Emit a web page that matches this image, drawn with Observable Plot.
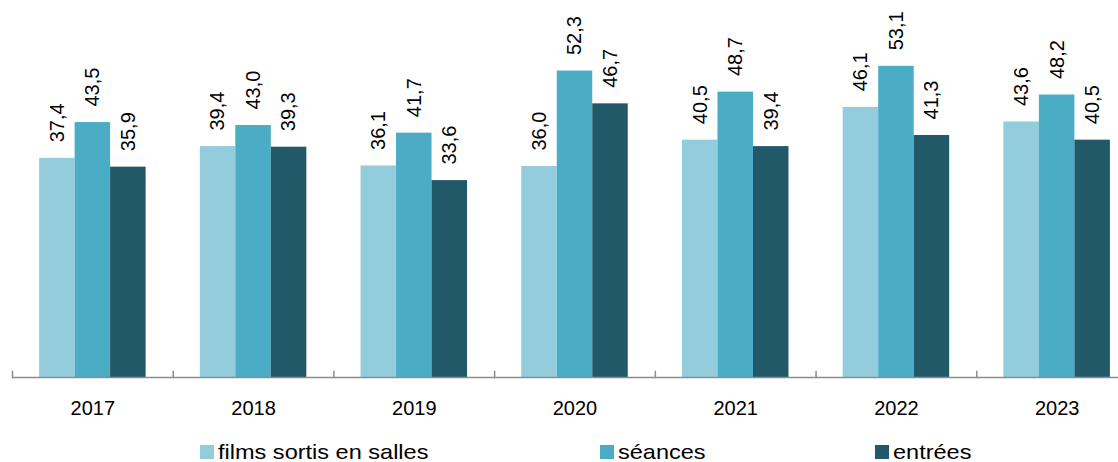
<!DOCTYPE html>
<html>
<head>
<meta charset="utf-8">
<script src="https://cdn.jsdelivr.net/npm/d3@7"></script>
<script src="https://cdn.jsdelivr.net/npm/@observablehq/plot@0.6"></script>
<style>
  html, body { margin: 0; padding: 0; background: #fff; }
  body { width: 1118px; height: 462px; overflow: hidden; position: relative; font-family: "Liberation Sans", Arial, sans-serif; }
  #chart { position: absolute; left: 0; top: 0; }
  #legend { position: absolute; top: 440px; left: 0; width: 1118px; height: 24px; font-size: 21px; line-height: 24px; color: #000; }
  .item { position: absolute; top: 0; display: flex; align-items: center; white-space: nowrap; }
  .sw { width: 14px; height: 14px; margin-right: 4px; flex: none; }
  .lbl { display: inline-block; transform: scaleX(1.12); transform-origin: left center; }
</style>
</head>
<body>
<div id="chart"></div>
<div id="legend"></div>
<script>
const years = ["2017", "2018", "2019", "2020", "2021", "2022", "2023"];
const seriesNames = ["films sortis en salles", "séances", "entrées"];
const films = [37.4, 39.4, 36.1, 36.0, 40.5, 46.1, 43.6];
const seances = [43.5, 43.0, 41.7, 52.3, 48.7, 53.1, 48.2];
const entrees = [35.9, 39.3, 33.6, 46.7, 39.4, 41.3, 40.5];
const colors = ["#93CDDD", "#4BACC6", "#215968"];

const values = [films, seances, entrees];
const data = [];
years.forEach((y, i) => {
  seriesNames.forEach((s, k) => data.push({ year: y, series: s, value: values[k][i] }));
});
const fmt = v => v.toFixed(1).replace(".", ",");

const H = 430, MT = 25.4, MB = 53;
const chart = Plot.plot({
  width: 1137,
  height: H,
  marginLeft: 12,
  marginRight: 0,
  marginTop: MT,
  marginBottom: MB,
  style: { fontFamily: "Liberation Sans, Arial, sans-serif", background: "transparent", overflow: "visible", maxWidth: "none" },
  fx: { domain: years, padding: 0, round: false, axis: null },
  x: { domain: seriesNames, paddingInner: 0, paddingOuter: 0.763, round: false, axis: null },
  y: { domain: [0, 60], axis: null },
  color: { domain: seriesNames, range: colors },
  marks: [
    Plot.barY(data, { fx: "year", x: "series", y: "value", fill: "series", inset: 0 }),
    Plot.text(data, {
      fx: "year", x: "series", y: "value", text: d => fmt(d.value),
      rotate: -90, textAnchor: "start", lineAnchor: "middle", dy: -16,
      fontSize: 20, fill: "#000", ariaLabel: "value-label"
    }),
    Plot.ruleY([0], { stroke: "#8c8c8c", strokeWidth: 1.5 }),
    Plot.frame({ anchor: "left", stroke: "#8c8c8c", strokeWidth: 1.5, insetTop: H - MT - MB - 6 }),
    Plot.text(years, {
      fx: d => d, text: d => d, frameAnchor: "bottom", lineAnchor: "middle", dy: 31,
      fontSize: 20, fill: "#000"
    })
  ]
});
document.getElementById("chart").appendChild(chart);

// widen rotated value labels' glyphs to match the reference's text proportions
d3.select(chart).selectAll('g[aria-label="value-label"] text').each(function () {
  const t = this.getAttribute("transform") || "";
  this.setAttribute("transform", (t + " scale(1,1.12)").trim());
});

const legendPos = [200, 600, 875];
const legend = document.getElementById("legend");
seriesNames.forEach((s, k) => {
  const it = document.createElement("div");
  it.className = "item";
  it.style.left = legendPos[k] + "px";
  const sw = document.createElement("span");
  sw.className = "sw";
  sw.style.background = colors[k];
  const t = document.createElement("span");
  t.className = "lbl";
  t.textContent = s;
  it.appendChild(sw);
  it.appendChild(t);
  legend.appendChild(it);
});
</script>
</body>
</html>
